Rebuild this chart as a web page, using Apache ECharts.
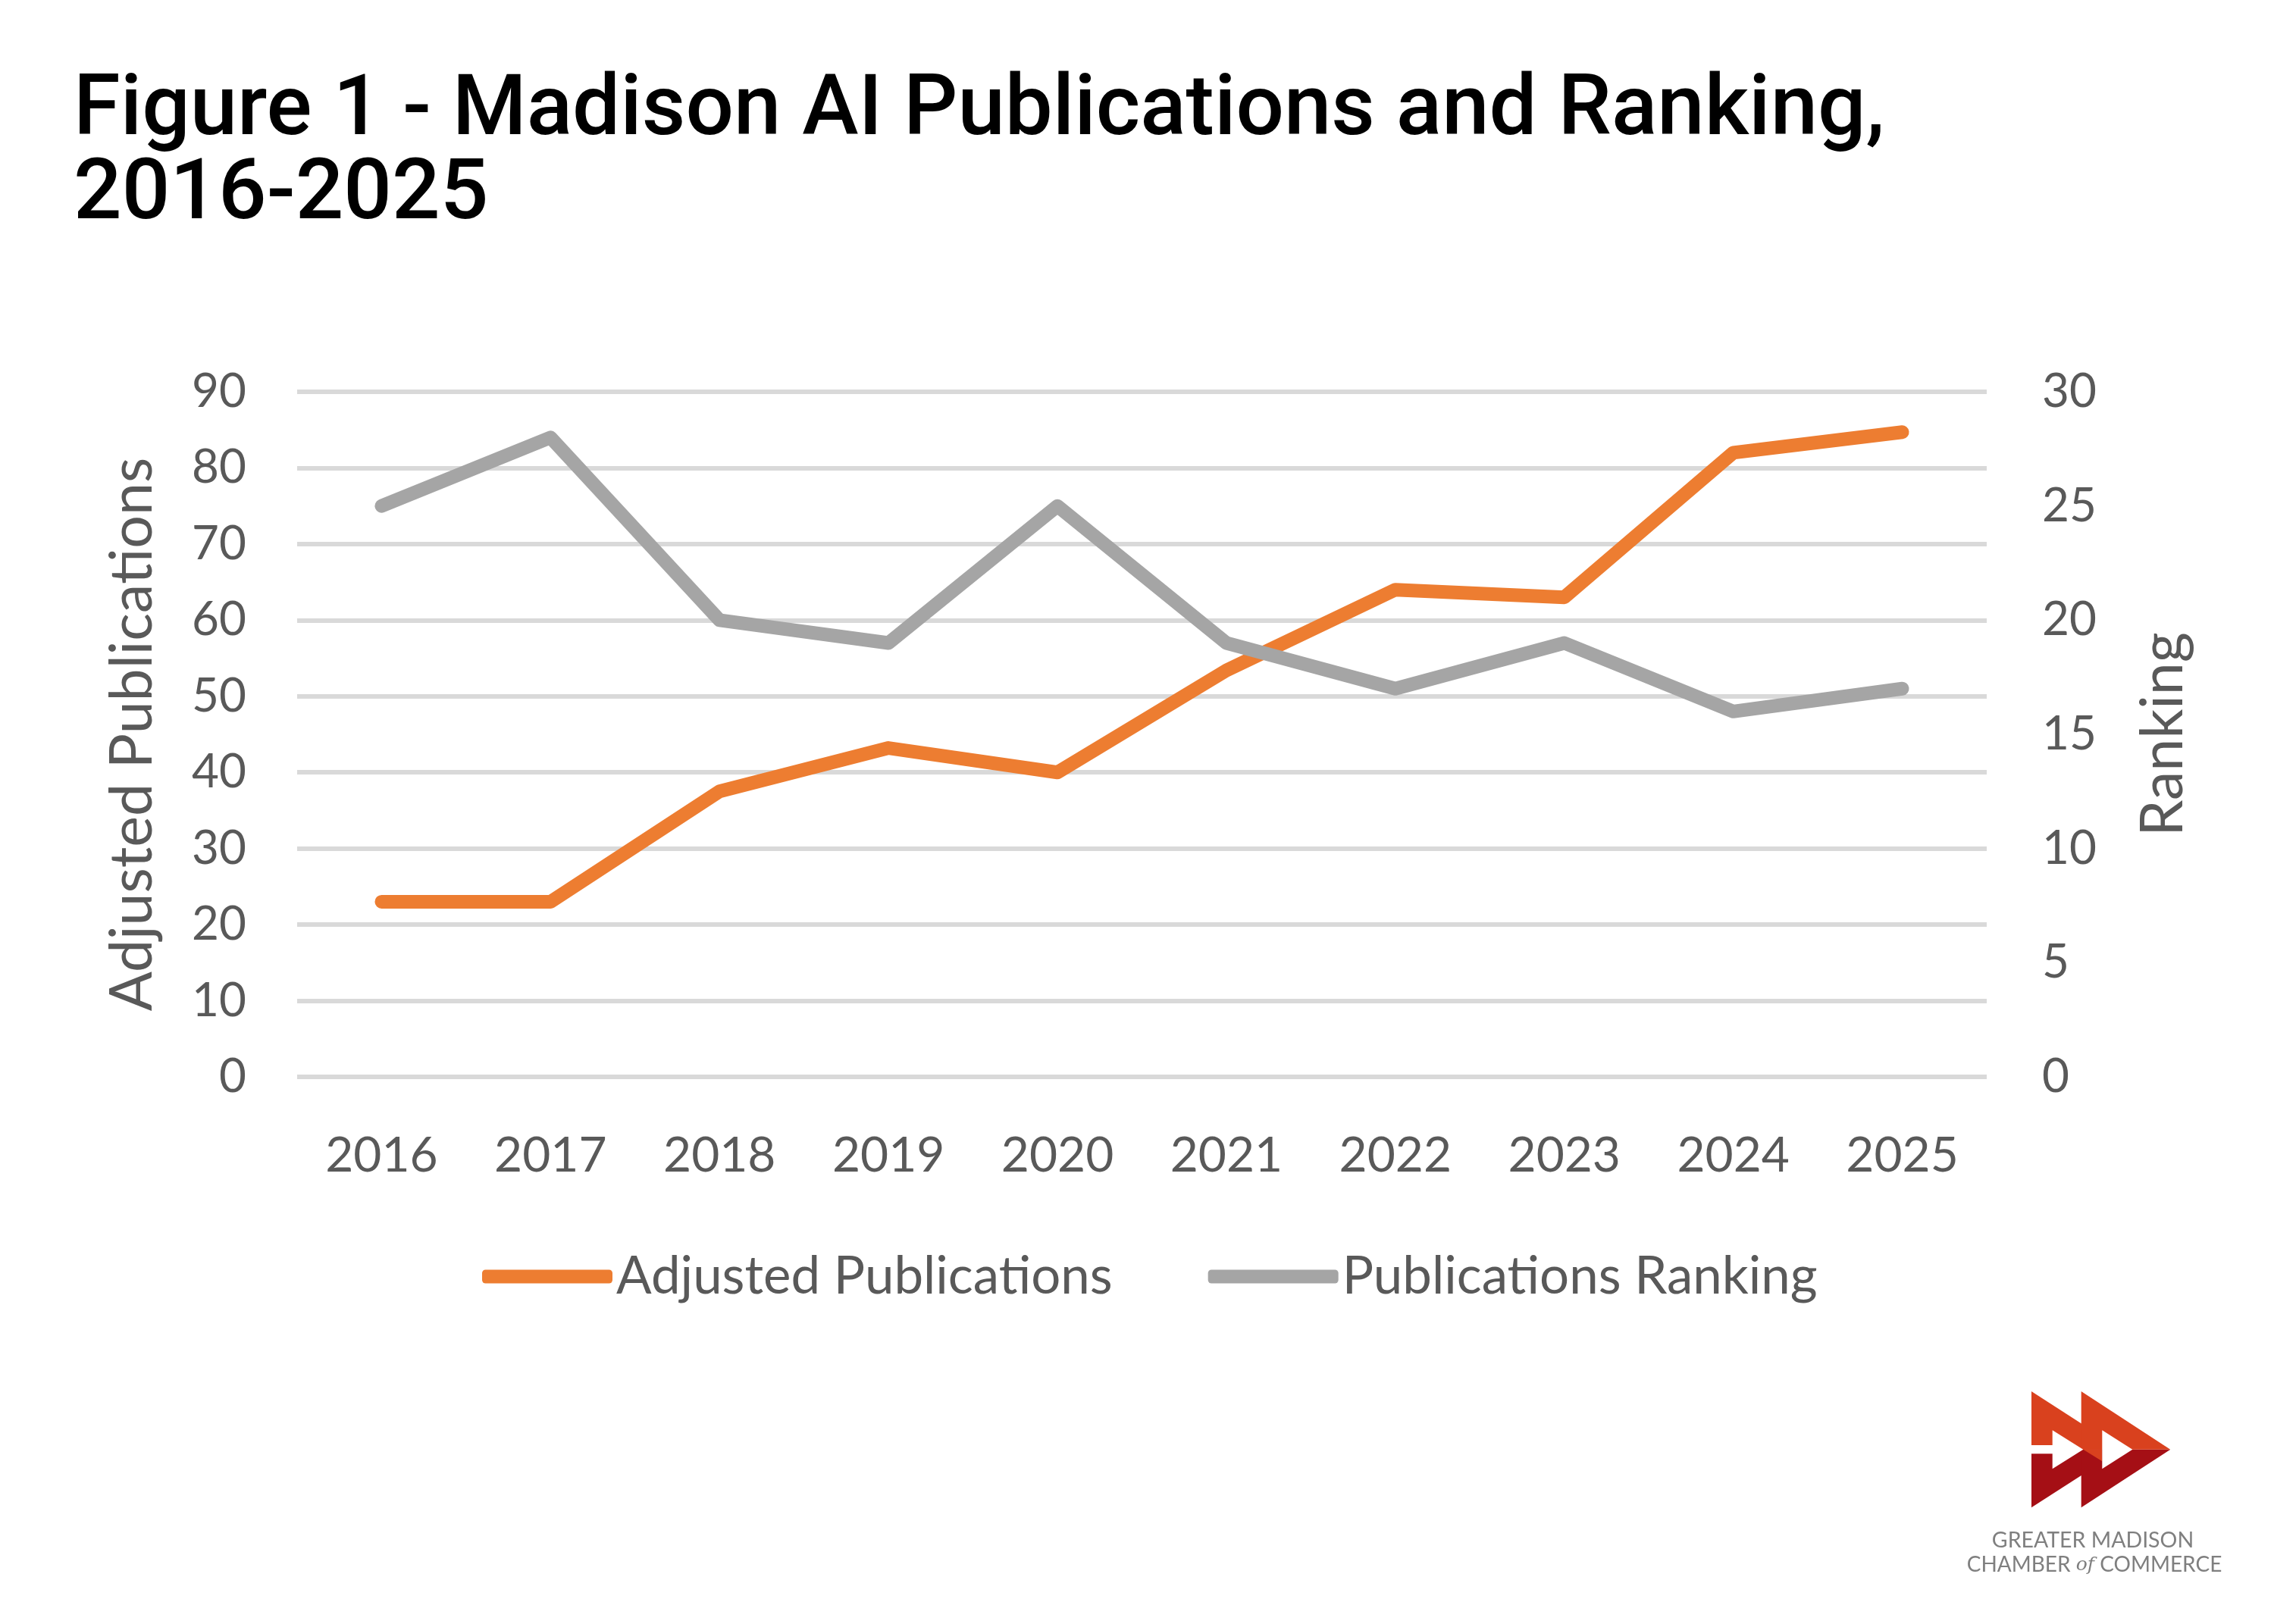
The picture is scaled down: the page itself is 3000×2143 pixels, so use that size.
<!DOCTYPE html>
<html>
<head>
<meta charset="utf-8">
<title>Figure 1 - Madison AI Publications and Ranking, 2016-2025</title>
<script src="https://cdn.jsdelivr.net/npm/echarts@6/dist/echarts.min.js"></script>
<style>
  html, body { margin: 0; padding: 0; background: #ffffff; }
  #chart { width: 3000px; height: 2143px; }
</style>
</head>
<body>
<div id="chart"></div>
<script>
const years = ["2016", "2017", "2018", "2019", "2020", "2021", "2022", "2023", "2024", "2025"];
const adjustedPublications = [23, 23, 37.5, 43.2, 40, 53.4, 64, 63, 82, 84.7];
const publicationsRanking = [25, 28, 20, 19, 25, 19, 17, 19, 16, 17];

const seriesNames = ["Adjusted Publications", "Publications Ranking"];
const seriesColors = ["#ED7D31", "#A5A5A5"];
const leftAxis = { name: "Adjusted Publications", max: 90, interval: 10 };
const rightAxis = { name: "Ranking", max: 30, interval: 5 };

const textGrey = "#595959";
const tickFont = "Lato";

// chamber logo, drawn as plain shapes
const logoOrange = "#D9411E";
const logoRed = "#A50F15";

function poly(points, fill) {
  return { type: "polygon", shape: { points }, style: { fill }, silent: true };
}

function logoShapes() {
  return [
    poly([[2680, 1912.7], [2799, 1912.7], [2680, 1989.3]], logoRed),
    poly([[2745.7, 1912.7], [2863.3, 1912.7], [2745.7, 1989.3]], logoRed),
    poly([[2680, 1836], [2799, 1912.7], [2680, 1912.7]], logoOrange),
    poly([[2745.7, 1836], [2863.3, 1912.7], [2745.7, 1912.7]], logoOrange),
    poly([[2748.3, 1912.7], [2773.3, 1928.3], [2773.3, 1912.7]], logoOrange),
    poly([[2707.7, 1887.3], [2707.7, 1938.3], [2748.3, 1912.7]], "#ffffff"),
    poly([[2773.3, 1887.3], [2773.3, 1938.3], [2813.3, 1912.7]], "#ffffff"),
    { type: "rect", shape: { x: 2678, y: 1907, width: 30, height: 11.3 }, style: { fill: "#ffffff" }, silent: true },
    {
      type: "text", x: 2761, y: 2033, silent: true,
      style: { text: "GREATER MADISON", fill: "#7F7F7F", font: "400 28.5px Lato", align: "center", verticalAlign: "middle" }
    },
    {
      type: "text", x: 2763, y: 2065, silent: true,
      style: {
        text: "CHAMBER {of|of} COMMERCE", fill: "#7F7F7F", font: "400 28px Lato",
        align: "center", verticalAlign: "middle",
        rich: { of: { fontFamily: "DejaVu Serif", fontStyle: "italic", fontSize: 25, fill: "#7F7F7F" } }
      }
    }
  ];
}

const chart = echarts.init(document.getElementById("chart"));

chart.setOption({
  animation: false,
  backgroundColor: "#ffffff",
  title: {
    text: "Figure 1 - Madison AI Publications and Ranking,\n2016-2025",
    left: 92,
    top: 88,
    textStyle: {
      fontFamily: "Roboto",
      fontWeight: 500,
      fontSize: 112,
      lineHeight: 111,
      color: "#000000"
    }
  },
  grid: {
    left: 392,
    right: 379,
    top: 517,
    bottom: 722,
    outerBoundsMode: "none"
  },
  legend: {
    data: seriesNames,
    top: 1645,
    left: 631,
    itemWidth: 172,
    itemHeight: 18,
    itemGap: 126,
    icon: "roundRect",
    textStyle: { fontFamily: tickFont, fontSize: 69, color: textGrey, padding: [0, 0, 0, 0] }
  },
  xAxis: {
    type: "category",
    data: years,
    boundaryGap: true,
    axisLine: { show: false },
    axisTick: { show: false },
    axisLabel: { fontFamily: tickFont, fontSize: 64, color: textGrey, margin: 72 }
  },
  yAxis: [
    {
      type: "value",
      name: leftAxis.name,
      nameLocation: "middle",
      nameRotate: 90,
      nameGap: 178,
      nameTextStyle: { fontFamily: tickFont, fontSize: 77, color: textGrey },
      min: 0,
      max: leftAxis.max,
      interval: leftAxis.interval,
      axisLine: { show: false },
      axisTick: { show: false },
      axisLabel: { fontFamily: tickFont, fontSize: 62, color: textGrey, margin: 67 },
      splitLine: { lineStyle: { color: "#D9D9D9", width: 6 } }
    },
    {
      type: "value",
      name: rightAxis.name,
      nameLocation: "middle",
      nameRotate: 90,
      nameGap: 195,
      nameTextStyle: { fontFamily: tickFont, fontSize: 77, color: textGrey },
      min: 0,
      max: rightAxis.max,
      interval: rightAxis.interval,
      axisLine: { show: false },
      axisTick: { show: false },
      axisLabel: { fontFamily: tickFont, fontSize: 62, color: textGrey, margin: 73 },
      splitLine: { show: false }
    }
  ],
  series: [
    {
      name: seriesNames[0],
      type: "line",
      yAxisIndex: 0,
      data: adjustedPublications,
      symbol: "none",
      color: seriesColors[0],
      lineStyle: { width: 18, color: seriesColors[0], cap: "round", join: "round" },
      z: 2
    },
    {
      name: seriesNames[1],
      type: "line",
      yAxisIndex: 1,
      data: publicationsRanking,
      symbol: "none",
      color: seriesColors[1],
      lineStyle: { width: 18, color: seriesColors[1], cap: "round", join: "round" },
      z: 3
    }
  ],
  graphic: logoShapes()
});
</script>
</body>
</html>
